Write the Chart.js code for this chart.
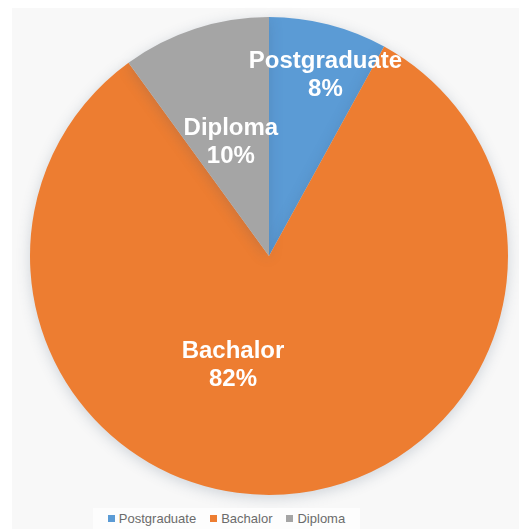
<!DOCTYPE html>
<html>
<head>
<meta charset="utf-8">
<script src="https://cdn.jsdelivr.net/npm/chart.js@4.4.0/dist/chart.umd.min.js"></script>
<style>
  html, body { margin: 0; padding: 0; background: #fff; }
  #wrap { position: relative; width: 519px; height: 529px; overflow: hidden; }
  #panel { position: absolute; left: 12px; top: 8px; width: 507px; height: 521px; background: #f8f8f8; }
  #pie { position: absolute; left: 0; top: 0; }
  #legend {
    position: absolute; left: 93px; top: 508px; width: 267px; height: 21px;
    background: #fdfdfd; display: flex; justify-content: center; align-items: center;
    font: 13px "Liberation Sans", Arial, sans-serif; color: #6b6b6b;
  }
  #legend span.item { display: inline-flex; align-items: center; margin: 0 7px; }
  #legend i { display: inline-block; width: 7px; height: 7px; margin-right: 4px; }
</style>
</head>
<body>
<div id="wrap">
  <div id="panel"></div>
  <canvas id="pie" width="519" height="529"></canvas>
  <div id="legend"></div>
</div>
<script>
// dati del grafico
const categories = ['Postgraduate', 'Bachalor', 'Diploma'];
const shares = [8, 82, 10];
const pctLabels = ['8%', '82%', '10%'];
const sliceColors = ['#5B9BD5', '#ED7D31', '#A5A5A5'];

// dove mettere le etichette: angolo (gradi, da ore 12 in senso orario) e frazione del raggio
const labelAnchors = [
  { angle: 17.4, frac: 0.79 },
  { angle: 198.3, frac: 0.48 },
  { angle: -18.6, frac: 0.50 }
];

(function () {
  /** ombra morbida sotto la torta */
  const shadowPlugin = {
    id: 'pieShadow',
    beforeDatasetsDraw(chart) {
      const ctx = chart.ctx;
      ctx.save();
      ctx.shadowColor = 'rgba(60, 80, 110, 0.22)';
      ctx.shadowBlur = 14;
      ctx.shadowOffsetX = 0;
      ctx.shadowOffsetY = 3;
    },
    afterDatasetsDraw(chart) {
      chart.ctx.restore();
    }
  };

  /** etichette bianche in grassetto: nome + percentuale */
  const sliceLabels = {
    id: 'sliceLabels',
    afterDraw(chart) {
      const ctx = chart.ctx;
      const meta = chart.getDatasetMeta(0);
      ctx.save();
      ctx.fillStyle = '#ffffff';
      ctx.font = 'bold 24px "Liberation Sans", Arial, sans-serif';
      ctx.textAlign = 'center';
      ctx.textBaseline = 'middle';
      meta.data.forEach((arc, i) => {
        const a = labelAnchors[i].angle * Math.PI / 180;
        const r = arc.outerRadius * labelAnchors[i].frac;
        const x = arc.x + r * Math.sin(a);
        const y = arc.y - r * Math.cos(a);
        ctx.fillText(categories[i], x, y - 14);
        ctx.fillText(pctLabels[i], x, y + 14);
      });
      ctx.restore();
    }
  };

  function buildLegend() {
    const box = document.getElementById('legend');
    categories.forEach((name, i) => {
      const it = document.createElement('span');
      it.className = 'item';
      const sw = document.createElement('i');
      sw.style.background = sliceColors[i];
      it.appendChild(sw);
      it.appendChild(document.createTextNode(name));
      box.appendChild(it);
    });
  }

  function init() {
    const canvas = document.getElementById('pie');
    new Chart(canvas.getContext('2d'), {
      type: 'pie',
      data: {
        labels: categories,
        datasets: [{ data: shares, backgroundColor: sliceColors, borderWidth: 0 }]
      },
      options: {
        responsive: false,
        animation: false,
        layout: { padding: { left: 30, right: 11, top: 17, bottom: 34 } },
        plugins: { legend: { display: false }, tooltip: { enabled: false } }
      },
      plugins: [shadowPlugin, sliceLabels]
    });
    buildLegend();
  }

  init();
})();
</script>
</body>
</html>
